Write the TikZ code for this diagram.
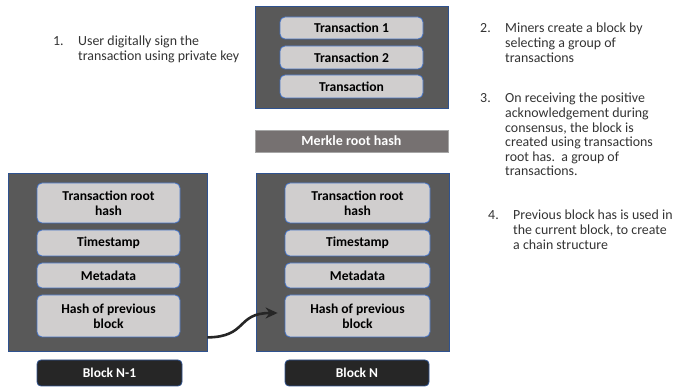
\documentclass[tikz,border=0pt]{standalone}
\usepackage{fontspec}
\setmainfont{Carlito}
\usetikzlibrary{arrows.meta}

\definecolor{blockgray}{HTML}{595959}
\definecolor{fieldgray}{HTML}{D0CECE}
\definecolor{merklegray}{HTML}{767171}
\definecolor{tagblack}{HTML}{262626}
\definecolor{edgeblue}{HTML}{2F528F}
\definecolor{fieldblue}{HTML}{4472C4}
\definecolor{notegray}{HTML}{333333}

\tikzset{
  chainblock/.style={draw=edgeblue, line width=0.6pt, fill=blockgray, inner sep=0pt},
  field/.style={draw=fieldblue, line width=0.8pt, fill=fieldgray, rounded corners=5pt,
    minimum width=143pt, align=center, inner sep=0pt,
    font=\fontsize{13.6}{15}\selectfont\bfseries},
  blocktag/.style={draw=edgeblue, line width=0.8pt, fill=tagblack, text=white, rounded corners=4pt,
    minimum height=26pt, inner sep=0pt, font=\fontsize{13.5}{15}\selectfont\bfseries},
  merkle/.style={draw=gray!70, line width=0.6pt, fill=merklegray, text=white,
    minimum width=193pt, minimum height=22pt, inner sep=0pt,
    font=\fontsize{14}{15}\selectfont\bfseries},
  note/.style={anchor=base west, inner sep=0pt, text=notegray, font=\fontsize{13.9}{14.6}\selectfont},
  chainarrow/.style={draw=tagblack, line width=2.6pt, -{Stealth[length=12pt,width=11pt]}}
}

\begin{document}
\begin{tikzpicture}[x=1pt, y=-1pt]
    \useasboundingbox (0, 0) rectangle (675, 387);

    % Draw the pool of transactions and the merkle root
    \node[chainblock, minimum width=193pt, minimum height=102pt] (pool) at (351.5, 57) {};
    \node[field, minimum height=22pt] (tx1) at (351.5, 28) {Transaction 1};
    \node[field, minimum height=23pt] (tx2) at (351.5, 57.5) {Transaction 2};
    \node[field, minimum height=23pt] (tx3) at (351.5, 86.5) {Transaction};
    \node[merkle] (root) at (351.5, 141) {Merkle root hash};

    % Draw block N-1
    \node[chainblock, minimum width=199pt, minimum height=178pt] (blkA) at (107.5, 262) {};
    \node[field, minimum height=40pt] (trhA) at (108.5, 203) {Transaction root\\hash};
    \node[field, minimum height=26pt] (tsA) at (108.5, 243) {Timestamp};
    \node[field, minimum height=25pt] (mdA) at (108.5, 275.5) {Metadata};
    \node[field, minimum height=42pt] (hpA) at (108.5, 316) {Hash of previous\\block};
    \node[blocktag, minimum width=145pt] (tagA) at (109.5, 373) {Block N-1};

    % Draw block N
    \node[chainblock, minimum width=193pt, minimum height=178pt] (blkB) at (352.5, 262) {};
    \node[field, minimum width=145pt, minimum height=40pt] (trhB) at (357.5, 203) {Transaction root\\hash};
    \node[field, minimum width=145pt, minimum height=26pt] (tsB) at (357.5, 243) {Timestamp};
    \node[field, minimum width=145pt, minimum height=25pt] (mdB) at (357.5, 275.5) {Metadata};
    \node[field, minimum width=145pt, minimum height=42pt] (hpB) at (357.5, 316) {Hash of previous\\block};
    \node[blocktag, minimum width=144pt] (tagB) at (357, 373) {Block N};

    % Draw the link between the blocks
    \draw[chainarrow] (blkA.east |- hpA.south) .. controls (248, 337) and (236, 313) .. ([xshift=-7pt, yshift=3pt]hpB.west);

    % Draw the steps
    \node[note] (stepA) at (53, 46)
        {\begin{tabular}[t]{@{}p{25pt}@{}l@{}}1. & User digitally sign the\\ & transaction using private key\end{tabular}};
    \node[note] (stepB) at (480, 33)
        {\begin{tabular}[t]{@{}p{25pt}@{}l@{}}2. & Miners create a block by\\ & selecting a group of\\ & transactions\end{tabular}};
    \node[note] (stepC) at (480, 103)
        {\begin{tabular}[t]{@{}p{25pt}@{}l@{}}3. & On receiving the positive\\ & acknowledgement during\\ & consensus, the block is\\ & created using transactions\\ & root has.\ \ a group of\\ & transactions.\end{tabular}};
    \node[note] (stepD) at (488, 220)
        {\begin{tabular}[t]{@{}p{25pt}@{}l@{}}4. & Previous block has is used in\\ & the current block, to create\\ & a chain structure\end{tabular}};
\end{tikzpicture}
\end{document}
